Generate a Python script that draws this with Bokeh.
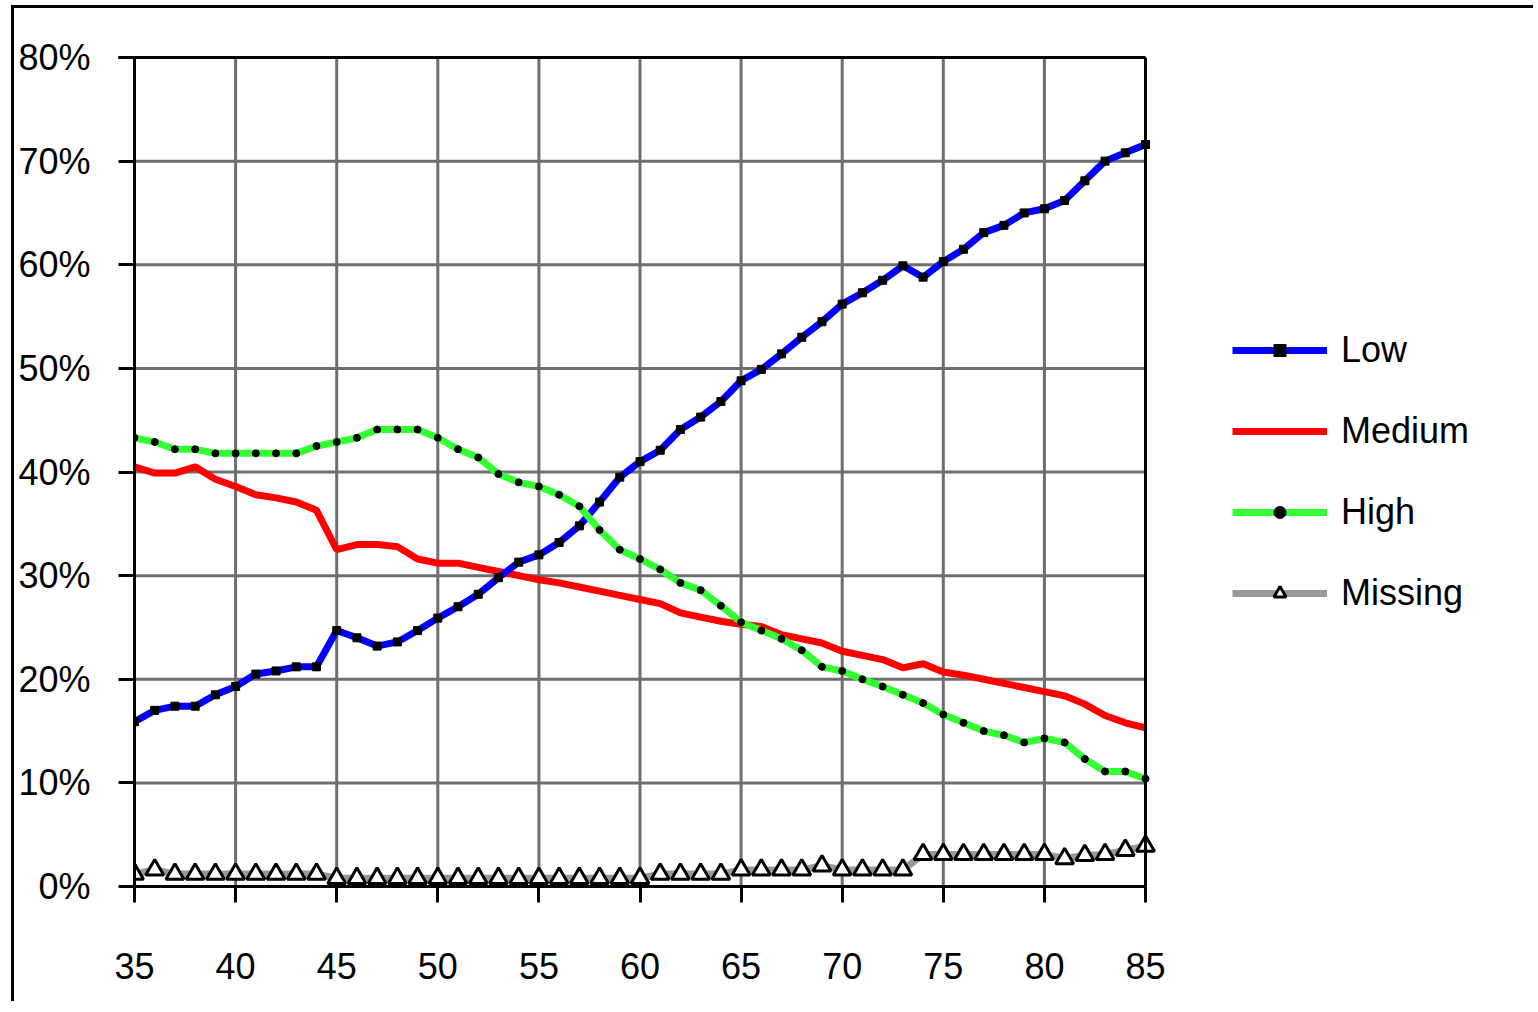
from bokeh.plotting import figure
from bokeh.models import Range1d, FixedTicker, PrintfTickFormatter, Legend, LegendItem
from bokeh.embed import file_html
from bokeh.resources import INLINE

ages = list(range(35, 86))
low = [15.9, 17.0, 17.4, 17.4, 18.5, 19.3, 20.5, 20.8, 21.2, 21.2,
       24.7, 24.0, 23.2, 23.6, 24.7, 25.9, 27.0, 28.2, 29.8, 31.3,
       32.0, 33.2, 34.8, 37.1, 39.5, 41.0, 42.1, 44.1, 45.3, 46.8,
       48.8, 49.9, 51.4, 53.0, 54.5, 56.2, 57.3, 58.5, 59.9, 58.8,
       60.3, 61.5, 63.1, 63.8, 65.0, 65.4, 66.2, 68.1, 70.0, 70.8,
       71.6]
medium = [40.5, 39.9, 39.9, 40.5, 39.3, 38.6, 37.8, 37.5, 37.1, 36.3,
          32.5, 33.0, 33.0, 32.8, 31.6, 31.2, 31.2, 30.8, 30.4, 30.0,
          29.6, 29.3, 28.9, 28.5, 28.1, 27.7, 27.3, 26.4, 26.0, 25.6,
          25.3, 25.1, 24.3, 23.9, 23.5, 22.7, 22.3, 21.9, 21.1, 21.5,
          20.7, 20.4, 20.0, 19.6, 19.2, 18.8, 18.4, 17.6, 16.5, 15.8,
          15.3]
high = [43.3, 42.9, 42.2, 42.2, 41.8, 41.8, 41.8, 41.8, 41.8, 42.5,
        42.9, 43.3, 44.1, 44.1, 44.1, 43.3, 42.2, 41.4, 39.8, 39.0,
        38.6, 37.8, 36.7, 34.4, 32.5, 31.6, 30.6, 29.3, 28.6, 27.1,
        25.5, 24.7, 23.9, 22.8, 21.2, 20.8, 20.0, 19.3, 18.5, 17.7,
        16.6, 15.8, 15.0, 14.6, 13.9, 14.3, 13.9, 12.3, 11.1, 11.1,
        10.4]
missing = [1.2, 1.6, 1.2, 1.2, 1.2, 1.2, 1.2, 1.2, 1.2, 1.2,
           0.8, 0.8, 0.8, 0.8, 0.8, 0.8, 0.8, 0.8, 0.8, 0.8,
           0.8, 0.8, 0.8, 0.8, 0.8, 0.8, 1.2, 1.2, 1.2, 1.2,
           1.6, 1.6, 1.6, 1.6, 2.0, 1.6, 1.6, 1.6, 1.6, 3.1,
           3.1, 3.1, 3.1, 3.1, 3.1, 3.1, 2.7, 3.0, 3.1, 3.5,
           3.9]
series_names = ["Low", "Medium", "High", "Missing"]
x_ticks = [35, 40, 45, 50, 55, 60, 65, 70, 75, 80, 85]
y_ticks = [0, 10, 20, 30, 40, 50, 60, 70, 80]

FONT = "Liberation Sans"
FS = "36px"

# layout: plot area is 1011 px wide for 35..85; the frame is widened to host the legend
W, H = 1522, 996
ML, MR, MT, MB = 120, 8, 49, 118
frame_w = W - ML - MR
xmin, xmax = x_ticks[0], x_ticks[-1]
ymin, ymax = y_ticks[0], y_ticks[-1]
x_end = xmin + (xmax - xmin) * frame_w / 1011.0

p = figure(width=W, height=H, output_backend="svg", toolbar_location=None,
           x_range=Range1d(xmin, x_end), y_range=Range1d(ymin, ymax),
           min_border_left=ML, min_border_top=MT, min_border_right=MR,
           min_border_bottom=MB)
p.styles = {"margin-left": "11px", "margin-top": "5px",
            "border-top": "3px solid black", "border-left": "3px solid black"}

p.outline_line_color = None
p.xgrid.visible = False
p.ygrid.visible = False

for ax in (p.xaxis[0], p.yaxis[0]):
    ax.axis_line_color = "black"
    ax.axis_line_width = 3
    ax.major_tick_line_color = "black"
    ax.major_tick_line_width = 3
    ax.major_tick_in = 0
    ax.major_tick_out = 16
    ax.minor_tick_line_color = None
    ax.major_label_text_font = FONT
    ax.major_label_text_font_size = FS
    ax.major_label_text_color = "black"

p.xaxis[0].ticker = FixedTicker(ticks=x_ticks)
p.xaxis[0].bounds = (xmin, xmax)
p.yaxis[0].ticker = FixedTicker(ticks=y_ticks)
p.yaxis[0].formatter = PrintfTickFormatter(format="%d%%")
p.xaxis[0].major_label_standoff = 50
p.yaxis[0].major_label_standoff = 28

# grid lines inside the 35..85 x 0..80 box
p.segment(x0=x_ticks[1:-1], y0=[ymin] * (len(x_ticks) - 2), x1=x_ticks[1:-1],
          y1=[ymax] * (len(x_ticks) - 2), line_color="#6e6e6e", line_width=3,
          level="underlay")
p.segment(x0=[xmin] * (len(y_ticks) - 2), y0=y_ticks[1:-1], x1=[xmax] * (len(y_ticks) - 2),
          y1=y_ticks[1:-1], line_color="#6e6e6e", line_width=3, level="underlay")

r_med = p.line(ages, medium, line_color="#ff0000", line_width=7)
r_low = p.line(ages, low, line_color="#0000ff", line_width=7)
r_low_m = p.scatter(ages, low, marker="square", size=8, fill_color="black", line_color="black")
r_high = p.line(ages, high, line_color="#33ff33", line_width=7)
r_high_m = p.scatter(ages, high, marker="circle", size=7, fill_color="black", line_color="black")
r_mis = p.line(ages, missing, line_color="#999999", line_width=7)
r_mis_m = p.scatter(ages, missing, marker="triangle", size=18, fill_color="white",
                    line_color="black", line_width=3)

# black top and right edges of the plot box
p.segment(x0=[xmin - (x_end - xmin) * 16.0 / frame_w], y0=[ymax], x1=[xmax], y1=[ymax],
          line_color="black", line_width=3, level="overlay")
p.segment(x0=[xmax], y0=[ymin], x1=[xmax], y1=[ymax],
          line_color="black", line_width=3, level="overlay")

legend = Legend(items=[
    LegendItem(label=series_names[0], renderers=[r_low, r_low_m]),
    LegendItem(label=series_names[1], renderers=[r_med]),
    LegendItem(label=series_names[2], renderers=[r_high, r_high_m]),
    LegendItem(label=series_names[3], renderers=[r_mis, r_mis_m]),
], location=(1098, 272))
legend.label_text_font = FONT
legend.label_text_font_size = FS
legend.label_text_color = "black"
legend.glyph_width = 95
legend.glyph_height = 30
legend.label_height = 41
legend.label_standoff = 14
legend.spacing = 39
legend.padding = 0
legend.margin = 0
legend.border_line_color = None
legend.background_fill_alpha = 0
p.add_layout(legend, "center")

open("out.html", "w").write(file_html(p, INLINE))
